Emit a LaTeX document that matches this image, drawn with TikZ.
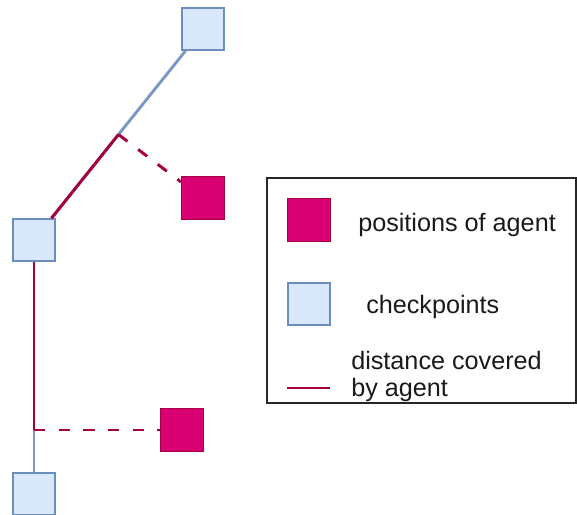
\documentclass[tikz,border=0pt]{standalone}
\usepackage{fontspec}
\setmainfont{Liberation Sans}
\usetikzlibrary{calc}
\definecolor{cpfill}{HTML}{DAE8FC}
\definecolor{cpdraw}{HTML}{6C8EBF}
\definecolor{agfill}{HTML}{D80073}
\definecolor{agdraw}{HTML}{A50040}
\definecolor{txt}{HTML}{1A1A1A}
\begin{document}
\begin{tikzpicture}[x=0.75pt,y=-0.75pt,
  checkbox/.style={draw=cpdraw,fill=cpfill,line width=1.1pt,minimum size=31.5pt,inner sep=0pt},
  agentbox/.style={draw=agdraw,fill=agfill,line width=1.1pt,minimum size=32pt,inner sep=0pt},
  bluepath/.style={draw=cpdraw!90!white,line width=2.2pt},
  redpath/.style={draw=agdraw,line width=2.2pt,line join=round},
  reddash/.style={draw=agdraw,line width=2.2pt,dash pattern=on 8.5pt off 10pt},
  legtext/.style={font=\fontsize{18.9pt}{20pt}\selectfont,text=txt,inner sep=0pt,anchor=base west}]
\useasboundingbox (0,0) rectangle (577,514);
% checkpoints
\node[checkbox] (top) at (203,29) {};
\node[checkbox] (mid) at (34,240) {};
\node[checkbox] (bot) at (34,494) {};
% agent positions
\node[agentbox] (ag1) at (203,198) {};
\node[agentbox] (ag2) at (182,430) {};
% blue paths
\draw[bluepath] (top) -- (mid);
\draw[bluepath] (mid) -- (bot);
% junctions
\coordinate (j1) at ($(top)!0.5!(mid)$);
\coordinate (j2) at (mid |- ag2);
\coordinate (a1) at ($(ag1.north west)+(0,6)$);
% red covered distance
\draw[redpath] (j1) -- (mid);
\draw[redpath] (mid.south) -- (j2);
\draw[reddash] (j1) -- (a1);
\draw[reddash] (j2) -- (ag2.west);
% legend
\node[draw=black!85,line width=1.4pt,minimum width=231.75pt,minimum height=168.75pt,inner sep=0pt,anchor=north west] (legend) at (266,177) {};
\node[agentbox] (lgag) at (309,220) {};
\node[checkbox] (lgcp) at (309,304) {};
\coordinate (l1) at (287,388);
\coordinate (l2) at (330,388);
\draw[redpath] (l1) -- (l2);
\node[legtext] (t1) at (358,231) {positions of agent};
\node[legtext] (t2) at (366,313) {checkpoints};
\node[legtext] (t3) at (351,369) {distance covered};
\node[legtext] (t4) at (351,396) {by agent};
\end{tikzpicture}
\end{document}
